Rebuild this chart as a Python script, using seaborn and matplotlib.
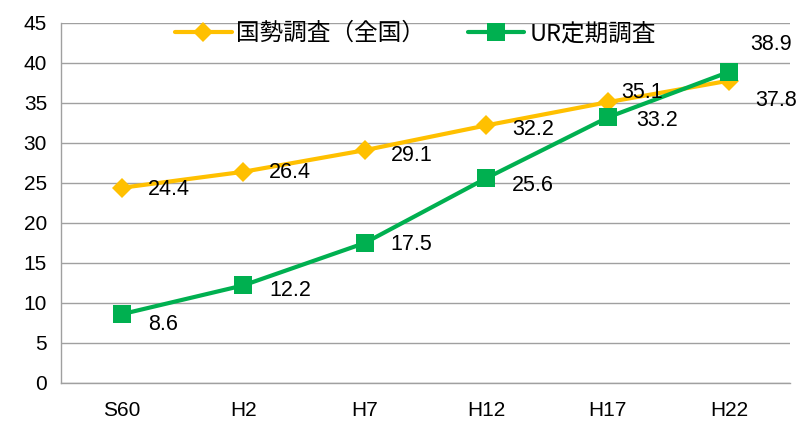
import matplotlib
matplotlib.use("Agg")
import matplotlib.pyplot as plt
import seaborn as sns
import pandas as pd
import numpy as np

categories = ["S60", "H2", "H7", "H12", "H17", "H22"]
census = [24.4, 26.4, 29.1, 32.2, 35.1, 37.8]
ur = [8.6, 12.2, 17.5, 25.6, 33.2, 38.9]
series_names = ["国勢調査（全国）", "UR定期調査"]

sns.set_theme(style="white")
plt.rcParams['font.family'] = ['Noto Sans CJK JP', 'DejaVu Sans']
plt.rcParams['text.color'] = 'black'
plt.rcParams['xtick.color'] = 'black'
plt.rcParams['ytick.color'] = 'black'

rows = []
for i, c in enumerate(categories):
    rows.append({"x": i, "cat": c, "value": census[i], "series": series_names[0]})
    rows.append({"x": i, "cat": c, "value": ur[i], "series": series_names[1]})
df = pd.DataFrame(rows)

fig = plt.figure(figsize=(8.05, 4.26), dpi=100)
ax = fig.add_axes([61/805, 1-383/426, (790-61)/805, 360/426])

palette = {series_names[0]: "#FFC000", series_names[1]: "#00B050"}
markers = {series_names[0]: "D", series_names[1]: "s"}
sizes_ms = {series_names[0]: 10, series_names[1]: 13}

for name in series_names:
    sub = df[df.series == name]
    sns.lineplot(data=sub, x="x", y="value", ax=ax, color=palette[name],
                 marker=markers[name], markersize=sizes_ms[name], linewidth=3,
                 markeredgewidth=0, label=name, zorder=3)

num_font = ['Liberation Sans', 'DejaVu Sans']
ax.set_xlim(-0.5, len(categories) - 0.5)
ax.set_ylim(0, 45)
ax.set_yticks(np.arange(0, 46, 5))
ax.set_xticks(range(len(categories)))
ax.set_xticklabels(categories)
ax.set_xticks(np.arange(-0.5, len(categories), 1), minor=True)
ax.tick_params(axis="x", which="major", length=0, pad=13, labelsize=15, labelcolor="black")
ax.tick_params(axis="x", which="minor", length=6, width=1, color="#A0A0A0", direction="out")
ax.tick_params(axis="y", length=7, width=1, color="#A0A0A0", direction="out", labelsize=15,
               pad=3, labelcolor="black")
for lab in ax.get_xticklabels() + ax.get_yticklabels():
    lab.set_family(num_font)
ax.set_xlabel("")
ax.set_ylabel("")
ax.grid(axis="y", color="#A0A0A0", linewidth=1)
ax.set_axisbelow(True)
for s in ["top", "right"]:
    ax.spines[s].set_visible(False)
for s in ["left", "bottom"]:
    ax.spines[s].set_color("#A0A0A0")
    ax.spines[s].set_linewidth(1)

# data labels (offsets in pixels)
off_c = [(26, -2), (26, -1), (26, -5), (26, -4), (13, 10), (26, -20)]
off_u = [(26, -10), (26, -5), (26, -2), (26, -7), (28, -3), (21, 27)]
px = 72 / 100
for i in range(len(categories)):
    ax.annotate(f"{census[i]:.1f}", (i, census[i]), xytext=(off_c[i][0]*px, off_c[i][1]*px),
                textcoords="offset points", ha="left", va="center", fontsize=15.5,
                family=num_font, color="black", zorder=5)
    ax.annotate(f"{ur[i]:.1f}", (i, ur[i]), xytext=(off_u[i][0]*px, off_u[i][1]*px),
                textcoords="offset points", ha="left", va="center", fontsize=15.5,
                family=num_font, color="black", zorder=5)

leg = ax.legend(loc="upper center", bbox_to_anchor=(0.486, 1.035), ncol=2, frameon=False,
                fontsize=17, handlelength=2.4, columnspacing=1.8, borderaxespad=0.1,
                handletextpad=0.2)
for t in leg.get_texts():
    t.set_color("black")

fig.savefig("out.png", dpi=100)
